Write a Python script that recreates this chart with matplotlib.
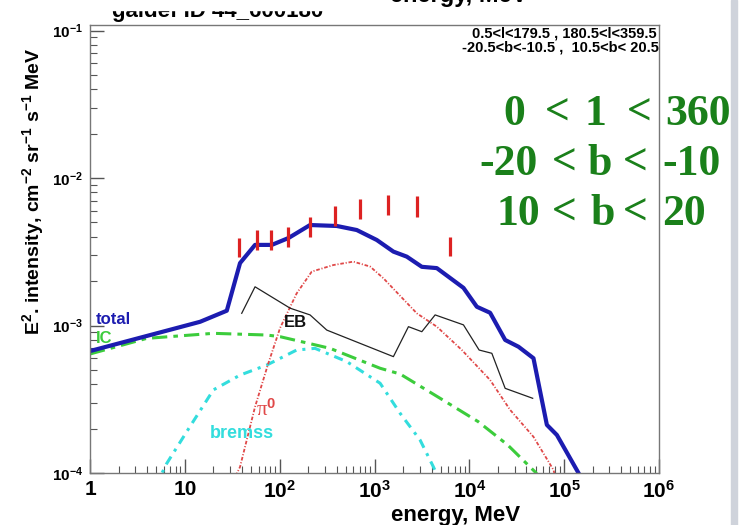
import matplotlib
matplotlib.use('Agg')
import matplotlib.pyplot as plt
from matplotlib.ticker import LogLocator, NullFormatter
from matplotlib.patches import Rectangle

plt.rcParams['font.family'] = 'Liberation Sans'
plt.rcParams['font.weight'] = 'bold'
plt.rcParams['mathtext.fontset'] = 'custom'
plt.rcParams['mathtext.rm'] = 'Liberation Sans:bold'
plt.rcParams['mathtext.it'] = 'Liberation Sans:bold'
plt.rcParams['mathtext.bf'] = 'Liberation Sans:bold'
plt.rcParams['mathtext.default'] = 'rm'

###############
# DATA (MeV, E^2 * intensity)
###############
total_e = [1, 14.5, 27.7, 38.2, 55, 82.6, 124, 209, 400, 650, 1057, 1582, 2191,
           3155, 4540, 8670, 12000, 16560, 23870, 32970, 47450, 65700, 83800,
           141600, 188000]
total_f = [6.71e-4, 1.06e-3, 1.26e-3, 2.65e-3, 3.52e-3, 3.52e-3, 3.92e-3,
           4.80e-3, 4.73e-3, 4.44e-3, 3.80e-3, 3.17e-3, 2.93e-3, 2.50e-3,
           2.45e-3, 1.80e-3, 1.34e-3, 1.22e-3, 7.98e-4, 7.18e-4, 6.0e-4,
           2.12e-4, 1.81e-4, 1.0e-4, 7.2e-5]

eb_e = [39.8, 55, 129, 209, 314, 1582, 2280, 3155, 4357, 8670, 12680, 17270,
        23870, 46560]
eb_f = [1.21e-3, 1.83e-3, 1.31e-3, 1.18e-3, 9.31e-4, 6.15e-4, 9.82e-4,
        9.08e-4, 1.18e-3, 1.01e-3, 6.82e-4, 6.48e-4, 3.75e-4, 3.21e-4]

pi0_e = [31.5, 38.2, 55, 75.5, 101, 151, 218, 368, 598, 899, 1242, 1862,
         2793, 4540, 8340, 16560, 26900, 47450, 77100, 82000]
pi0_f = [8.5e-5, 1.10e-4, 2.81e-4, 5.48e-4, 9.62e-4, 1.65e-3, 2.32e-3,
         2.57e-3, 2.71e-3, 2.51e-3, 2.09e-3, 1.59e-3, 1.21e-3, 9.82e-4,
         6.82e-4, 4.27e-4, 2.68e-4, 1.76e-4, 1.05e-4, 9.0e-5]

ic_e = [1, 3.96, 20, 73, 101, 340, 1146, 1862, 4920, 12390, 25350, 50700, 55000]
ic_f = [6.41e-4, 8.18e-4, 8.85e-4, 8.62e-4, 8.40e-4, 7.0e-4, 5.13e-4,
        4.69e-4, 3.21e-4, 2.23e-4, 1.55e-4, 1.0e-4, 8.5e-5]

brems_e = [5.2, 5.75, 6.44, 11.3, 20, 38.2, 73, 151, 236, 510, 1146, 1862,
           3030, 4180, 4467, 4700]
brems_f = [8.0e-5, 1.0e-4, 1.16e-4, 2.06e-4, 3.66e-4, 4.61e-4, 5.39e-4,
           6.82e-4, 7.0e-4, 5.69e-4, 4.06e-4, 2.54e-4, 1.67e-4, 1.10e-4,
           1.0e-4, 8.0e-5]

# EGRET points, drawn as bars only
data_e = [37.3, 57.8, 81, 123, 209, 384, 705, 1390, 2811, 6270]
data_lo = [2.92e-3, 3.25e-3, 3.25e-3, 3.42e-3, 4.0e-3, 4.73e-3, 5.27e-3,
           5.61e-3, 5.44e-3, 2.96e-3]
data_hi = [3.90e-3, 4.44e-3, 4.44e-3, 4.68e-3, 5.47e-3, 6.45e-3, 7.21e-3,
           7.67e-3, 7.55e-3, 4.0e-3]

xticks = [1, 10, 1e2, 1e3, 1e4, 1e5, 1e6]
xtick_labels = ['1', '10', '10$^{2}$', '10$^{3}$', '10$^{4}$', '10$^{5}$', '10$^{6}$']
yticks = [1e-4, 1e-3, 1e-2, 1e-1]
ytick_labels = ['10$^{-4}$', '10$^{-3}$', '10$^{-2}$', '10$^{-1}$']

###############
# PLOT
###############
fig = plt.figure(figsize=(7.44, 5.25), dpi=100)
W, H = 744., 525.
ax = fig.add_axes([90 / W, 1 - 473 / H, (659 - 90) / W, (473 - 25) / H])
ax.set_xscale('log')
ax.set_yscale('log')

ax.plot(ic_e, ic_f, color='#3ccc3c', lw=2.2, ls=(0, (5, 2, 1.5, 2)))
ax.plot(brems_e, brems_f, color='#33dddd', lw=2.2, ls=(0, (3, 2, 1, 2)))
ax.plot(pi0_e, pi0_f, color='#e04848', lw=1.3, ls=(0, (2, 1, 0.6, 1)))
ax.plot(eb_e, eb_f, color='#222222', lw=0.9)
ax.plot(total_e, total_f, color='#1c1cb0', lw=3)
ax.vlines(data_e, data_lo, data_hi, color='#dd2222', lw=2.3)

ax.set_xlim(1, 1e6)
ax.set_ylim(1e-4, 0.109)

ax.set_xticks(xticks)
ax.set_xticklabels(xtick_labels, fontsize=15)
ax.set_yticks(yticks)
ax.set_yticklabels(ytick_labels, fontsize=11)
ax.xaxis.set_minor_locator(LogLocator(base=10, subs=range(2, 10), numticks=20))
ax.yaxis.set_minor_locator(LogLocator(base=10, subs=range(2, 10), numticks=20))
ax.xaxis.set_minor_formatter(NullFormatter())
ax.yaxis.set_minor_formatter(NullFormatter())
ax.tick_params(which='both', direction='in', top=False, right=False, color='#555555')
ax.tick_params(which='major', length=10, width=1)
ax.tick_params(which='minor', length=5, width=0.8)
ax.tick_params(axis='x', pad=5)
ax.tick_params(axis='y', pad=5)
for s in ax.spines.values():
    s.set_color('#777777')
    s.set_linewidth(1)

# curve labels
ax.text(1.16, 1.09e-3, 'total', color='#1c1cb0', fontsize=12, va='center')
ax.text(1.16, 8.2e-4, 'IC', color='#3ccc3c', fontsize=12, va='center')
ax.text(110, 1.05e-3, 'EB', color='#111111', fontsize=12, va='center')
ax.text(56, 2.7e-4, 'π$^{0}$', color='#e04848', fontsize=15, va='center',
        family='Liberation Serif', weight='normal')
ax.text(18.5, 1.85e-4, 'bremss', color='#33dddd', fontsize=13, va='center')

ax.text(0.995, 0.98, '0.5<l<179.5 , 180.5<l<359.5', transform=ax.transAxes,
        ha='right', va='center', fontsize=10.5)
ax.text(0.999, 0.95, '-20.5<b<-10.5 ,  10.5<b< 20.5', transform=ax.transAxes,
        ha='right', va='center', fontsize=10.5)

fig.text(33 / W, 1 - 191 / H, 'E$^{2}$. intensity, cm$^{-2}$ sr$^{-1}$ s$^{-1}$ MeV',
         rotation=90, ha='center', va='center', fontsize=14)
fig.text(456 / W, 1 - 516 / H, 'energy, MeV', ha='center', va='center', fontsize=16)

# cut-off header text
fig.text(112 / W, 1 - 17 / H, 'galdef ID 44_600180', ha='left', va='baseline', fontsize=16)
fig.patches.append(Rectangle((100 / W, 1 - 9.5 / H), 400 / W, 9.5 / H,
                             transform=fig.transFigure, color='white', zorder=5))
fig.text(390 / W, 1 - 2 / H, 'energy, MeV', ha='left', va='baseline', fontsize=17, zorder=6)

# right-hand strip
fig.patches.append(Rectangle((731 / W, 0), 6 / W, 1, transform=fig.transFigure,
                             color='#cfd3db', zorder=0))

# green overlay text, placed token by token
green_rows = [['0', '<', '1', '<', '360'],
              ['-20', '<', 'b', '<', '-10'],
              ['10', '<', 'b', '<', '20']]
green_x = [[503, 545, 585, 627, 665],
           [479, 552, 587, 623, 662],
           [497, 552, 590, 623, 662]]
green_y = [125, 175, 225]
for row, xs, yb in zip(green_rows, green_x, green_y):
    for tok, xp in zip(row, xs):
        fig.text(xp / W, 1 - yb / H, tok, color='#1a801a', fontsize=31.5,
                 family='Liberation Serif', weight='bold', ha='left', va='baseline')

fig.savefig('out.png', dpi=100)
